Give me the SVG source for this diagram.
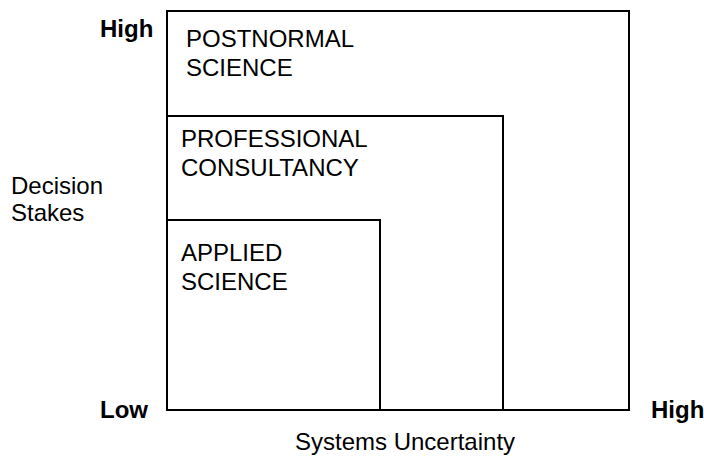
<svg xmlns="http://www.w3.org/2000/svg" width="704" height="456" viewBox="0 0 704 456">
  <style>
    .zone { fill: none; stroke: #000; stroke-width: 2; }
    .label { font-family: "Liberation Sans", Arial, sans-serif; font-size: 24px; fill: #000; }
    .axis { font-family: "Liberation Sans", Arial, sans-serif; font-size: 24px; fill: #000; }
    .tick { font-family: "Liberation Sans", Arial, sans-serif; font-size: 24px; font-weight: bold; fill: #000; }
  </style>
  <rect width="704" height="456" fill="#fff"/>

  <!-- nested problem-solving strategies, drawn outermost first -->
  <g id="postnormal-science">
    <rect class="zone" x="167" y="11" width="462" height="399"/>
    <text class="label" x="186" y="47">POSTNORMAL</text>
    <text class="label" x="186" y="76">SCIENCE</text>
  </g>
  <g id="professional-consultancy">
    <rect class="zone" x="167" y="116" width="336" height="294"/>
    <text class="label" x="181" y="147">PROFESSIONAL</text>
    <text class="label" x="181" y="176">CONSULTANCY</text>
  </g>
  <g id="applied-science">
    <rect class="zone" x="167" y="220" width="213" height="190"/>
    <text class="label" x="181" y="261">APPLIED</text>
    <text class="label" x="181" y="290">SCIENCE</text>
  </g>

  <!-- axis labels -->
  <g id="axes">
    <text class="tick" x="100" y="37">High</text>
    <text class="tick" x="100" y="418">Low</text>
    <text class="tick" x="651" y="418">High</text>
    <text class="axis" x="11" y="194">Decision</text>
    <text class="axis" x="11" y="221">Stakes</text>
    <text class="axis" x="295" y="450">Systems Uncertainty</text>
  </g>
</svg>
